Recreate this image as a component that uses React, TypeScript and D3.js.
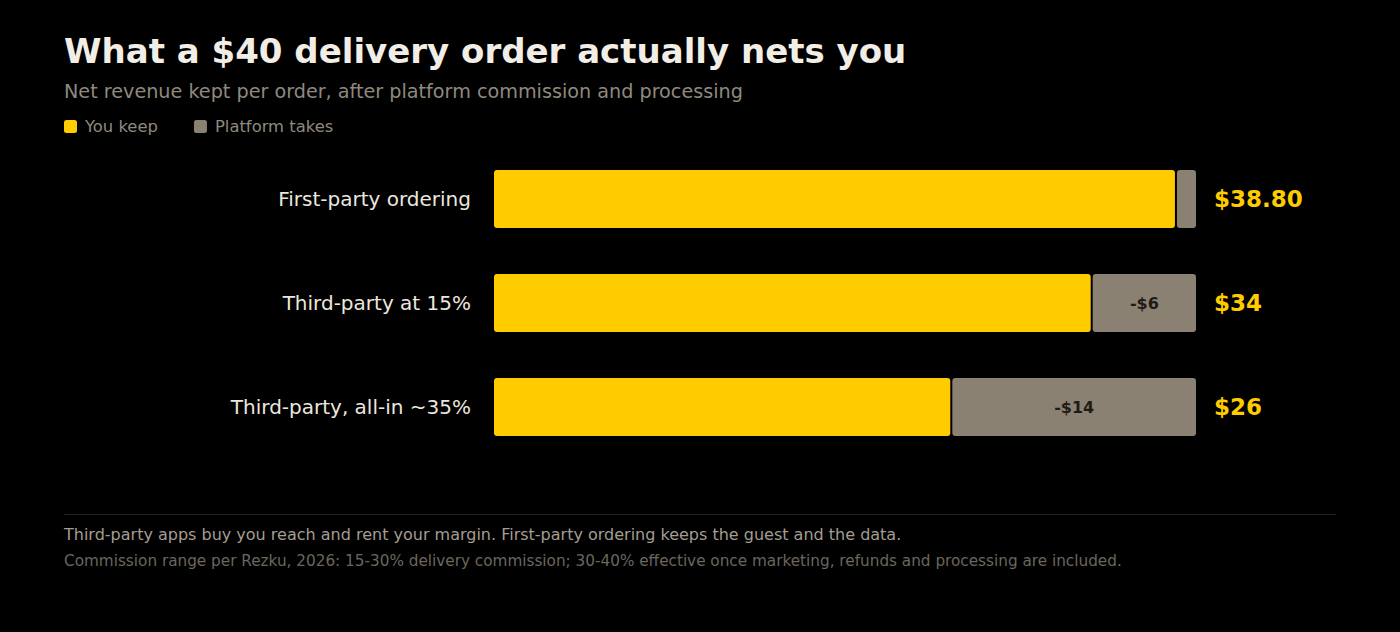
import { useEffect, useRef } from 'react';
import * as d3 from 'd3';

const CATEGORIES = ['First-party ordering', 'Third-party at 15%', 'Third-party, all-in ~35%'];
const KEEP = [38.8, 34, 26];
const TAKE = [1.2, 6, 14];
const VALUE_LABELS = ['$38.80', '$34', '$26'];
const TAKE_LABELS = ['', '-$6', '-$14'];
const ORDER_TOTAL = 40;

const LEGEND = [
  { label: 'You keep', color: '#ffcc00' },
  { label: 'Platform takes', color: '#8a8172' },
];

const FONT = '"DejaVu Sans", Verdana, sans-serif';

export default function App() {
  const ref = useRef<SVGSVGElement>(null);

  useEffect(() => {
    if (!ref.current) return;
    const svg = d3.select(ref.current);
    svg.selectAll('*').remove();

    const W = 1400;
    const H = 632;
    svg.attr('width', W).attr('height', H);
    svg.append('rect').attr('width', W).attr('height', H).attr('fill', '#000');

    // Title block
    svg.append('text').attr('x', 64).attr('y', 63)
      .attr('fill', '#f2eee6').attr('font-size', 34).attr('font-weight', 'bold')
      .attr('font-family', FONT).text('What a $40 delivery order actually nets you');
    svg.append('text').attr('x', 64).attr('y', 98)
      .attr('fill', '#8f897e').attr('font-size', 19.2)
      .attr('font-family', FONT).text('Net revenue kept per order, after platform commission and processing');

    // Legend
    const legend = svg.append('g').attr('transform', 'translate(64,120)');
    let lx = 0;
    LEGEND.forEach(({ label, color }) => {
      legend.append('rect').attr('x', lx).attr('y', 0).attr('width', 13).attr('height', 13)
        .attr('rx', 2.5).attr('fill', color);
      const t = legend.append('text').attr('x', lx + 21).attr('y', 11.5)
        .attr('fill', '#8f897e').attr('font-size', 16.4).attr('font-family', FONT).text(label);
      const w = (t.node() as SVGTextElement).getComputedTextLength();
      lx += 21 + w + 36;
    });

    // Bars
    const x = d3.scaleLinear().domain([0, ORDER_TOTAL]).range([494, 1196]);
    const y = d3.scaleBand<string>().domain(CATEGORIES).range([144, 462]).paddingInner(0.442).paddingOuter(0.25);
    const bh = y.bandwidth();

    const rows = svg.append('g').selectAll('g').data(CATEGORIES).join('g')
      .attr('transform', d => `translate(0,${y(d)})`);

    rows.append('text').attr('x', 471).attr('y', bh / 2).attr('dy', '0.35em')
      .attr('text-anchor', 'end').attr('fill', '#ebe7df').attr('font-size', 20)
      .attr('font-family', FONT).text(d => d);

    rows.append('rect')
      .attr('x', x(0))
      .attr('width', (_, i) => x(KEEP[i]) - x(0))
      .attr('height', bh).attr('rx', 3).attr('fill', LEGEND[0].color);

    rows.append('rect')
      .attr('x', (_, i) => x(KEEP[i]) + 2)
      .attr('width', (_, i) => x(KEEP[i] + TAKE[i]) - x(KEEP[i]) - 2)
      .attr('height', bh).attr('rx', 3).attr('fill', LEGEND[1].color);

    rows.append('text')
      .attr('x', (_, i) => (x(KEEP[i]) + 2 + x(KEEP[i] + TAKE[i])) / 2)
      .attr('y', bh / 2).attr('dy', '0.35em').attr('text-anchor', 'middle')
      .attr('fill', '#1e1b16').attr('font-size', 16).attr('font-weight', 'bold')
      .attr('font-family', FONT).text((_, i) => TAKE_LABELS[i]);

    rows.append('text')
      .attr('x', (_, i) => x(KEEP[i] + TAKE[i]) + 18)
      .attr('y', bh / 2).attr('dy', '0.35em')
      .attr('fill', '#ffcc00').attr('font-size', 23).attr('font-weight', 'bold')
      .attr('font-family', FONT).text((_, i) => VALUE_LABELS[i]);

    // Footer
    svg.append('line').attr('x1', 64).attr('x2', 1336).attr('y1', 514.5).attr('y2', 514.5)
      .attr('stroke', '#222').attr('stroke-width', 1);
    svg.append('text').attr('x', 64).attr('y', 540)
      .attr('fill', '#a39d92').attr('font-size', 16).attr('font-family', FONT)
      .text('Third-party apps buy you reach and rent your margin. First-party ordering keeps the guest and the data.');
    svg.append('text').attr('x', 64).attr('y', 566)
      .attr('fill', '#6b665e').attr('font-size', 15.25).attr('font-family', FONT)
      .text('Commission range per Rezku, 2026: 15-30% delivery commission; 30-40% effective once marketing, refunds and processing are included.');
  }, []);

  return (
    <div style={{ position: 'absolute', left: 0, top: 0, width: 1400, height: 632, background: '#000' }}>
      <svg ref={ref} style={{ display: 'block' }} />
    </div>
  );
}
